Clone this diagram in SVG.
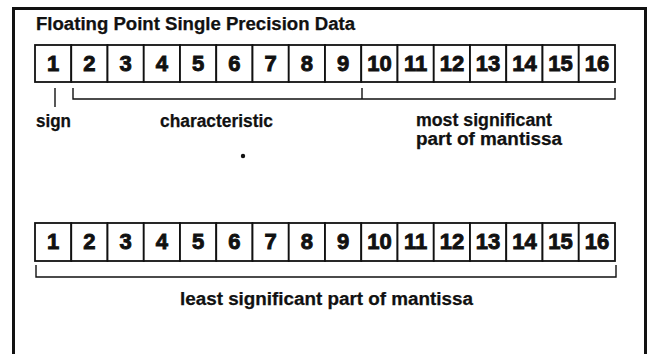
<svg xmlns="http://www.w3.org/2000/svg" width="651" height="354" viewBox="0 0 651 354">
<style>
.cell{fill:#fff;stroke:#111;stroke-width:1.8}
.num{font-family:"Liberation Sans",Arial,sans-serif;font-weight:bold;font-size:22px;fill:#111;stroke:#111;stroke-width:0.9;text-anchor:middle}
.lbl{font-family:"Liberation Sans",Arial,sans-serif;font-weight:bold;font-size:18px;fill:#111;stroke:#111;stroke-width:0.25}
.br{fill:none;stroke:#111;stroke-width:1.4}
</style>
<rect width="651" height="354" fill="#fff"/>
<path d="M13.5,360 V8.5 H645.5 V360" fill="none" stroke="#111" stroke-width="3"/>
<text class="lbl" x="36" y="30" textLength="319" lengthAdjust="spacingAndGlyphs">Floating Point Single Precision Data</text>
<g id="word1">
<rect class="cell" x="35" y="45" width="36.25" height="37"/>
<rect class="cell" x="71.25" y="45" width="36.25" height="37"/>
<rect class="cell" x="107.5" y="45" width="36.25" height="37"/>
<rect class="cell" x="143.75" y="45" width="36.25" height="37"/>
<rect class="cell" x="180" y="45" width="36.25" height="37"/>
<rect class="cell" x="216.25" y="45" width="36.25" height="37"/>
<rect class="cell" x="252.5" y="45" width="36.25" height="37"/>
<rect class="cell" x="288.75" y="45" width="36.25" height="37"/>
<rect class="cell" x="325" y="45" width="36.25" height="37"/>
<rect class="cell" x="361.25" y="45" width="36.25" height="37"/>
<rect class="cell" x="397.5" y="45" width="36.25" height="37"/>
<rect class="cell" x="433.75" y="45" width="36.25" height="37"/>
<rect class="cell" x="470" y="45" width="36.25" height="37"/>
<rect class="cell" x="506.25" y="45" width="36.25" height="37"/>
<rect class="cell" x="542.5" y="45" width="36.25" height="37"/>
<rect class="cell" x="578.75" y="45" width="36.25" height="37"/>
<text class="num" x="53.1" y="71">1</text>
<text class="num" x="89.4" y="71">2</text>
<text class="num" x="125.6" y="71">3</text>
<text class="num" x="161.9" y="71">4</text>
<text class="num" x="198.1" y="71">5</text>
<text class="num" x="234.4" y="71">6</text>
<text class="num" x="270.6" y="71">7</text>
<text class="num" x="306.9" y="71">8</text>
<text class="num" x="343.1" y="71">9</text>
<text class="num" x="379.4" y="71">10</text>
<text class="num" x="415.6" y="71">11</text>
<text class="num" x="451.9" y="71">12</text>
<text class="num" x="488.1" y="71">13</text>
<text class="num" x="524.4" y="71">14</text>
<text class="num" x="560.6" y="71">15</text>
<text class="num" x="596.9" y="71">16</text>
</g>
<g id="word2">
<rect class="cell" x="35" y="223" width="36.25" height="38"/>
<rect class="cell" x="71.25" y="223" width="36.25" height="38"/>
<rect class="cell" x="107.5" y="223" width="36.25" height="38"/>
<rect class="cell" x="143.75" y="223" width="36.25" height="38"/>
<rect class="cell" x="180" y="223" width="36.25" height="38"/>
<rect class="cell" x="216.25" y="223" width="36.25" height="38"/>
<rect class="cell" x="252.5" y="223" width="36.25" height="38"/>
<rect class="cell" x="288.75" y="223" width="36.25" height="38"/>
<rect class="cell" x="325" y="223" width="36.25" height="38"/>
<rect class="cell" x="361.25" y="223" width="36.25" height="38"/>
<rect class="cell" x="397.5" y="223" width="36.25" height="38"/>
<rect class="cell" x="433.75" y="223" width="36.25" height="38"/>
<rect class="cell" x="470" y="223" width="36.25" height="38"/>
<rect class="cell" x="506.25" y="223" width="36.25" height="38"/>
<rect class="cell" x="542.5" y="223" width="36.25" height="38"/>
<rect class="cell" x="578.75" y="223" width="36.25" height="38"/>
<text class="num" x="53.1" y="249">1</text>
<text class="num" x="89.4" y="249">2</text>
<text class="num" x="125.6" y="249">3</text>
<text class="num" x="161.9" y="249">4</text>
<text class="num" x="198.1" y="249">5</text>
<text class="num" x="234.4" y="249">6</text>
<text class="num" x="270.6" y="249">7</text>
<text class="num" x="306.9" y="249">8</text>
<text class="num" x="343.1" y="249">9</text>
<text class="num" x="379.4" y="249">10</text>
<text class="num" x="415.6" y="249">11</text>
<text class="num" x="451.9" y="249">12</text>
<text class="num" x="488.1" y="249">13</text>
<text class="num" x="524.4" y="249">14</text>
<text class="num" x="560.6" y="249">15</text>
<text class="num" x="596.9" y="249">16</text>
</g>
<g id="connectors">
<path class="br" d="M55,88 V107"/>
<path class="br" d="M73,88 V99 H615 V88 M362,88 V99"/>
<path class="br" d="M36,265 V277 H616 V265"/>
</g>
<g id="label-sign"><text class="lbl" x="36" y="127" textLength="35" lengthAdjust="spacingAndGlyphs">sign</text></g>
<g id="label-characteristic"><text class="lbl" x="160" y="127" textLength="113" lengthAdjust="spacingAndGlyphs">characteristic</text></g>
<g id="label-msp"><text class="lbl" x="416" y="125.5" textLength="136" lengthAdjust="spacingAndGlyphs">most significant</text><text class="lbl" x="416" y="144.5" textLength="146" lengthAdjust="spacingAndGlyphs">part of mantissa</text></g>
<g id="label-lsp"><text class="lbl" x="180" y="305" textLength="293" lengthAdjust="spacingAndGlyphs">least significant part of mantissa</text></g>
<circle cx="243" cy="156" r="2.2" fill="#111"/>
</svg>
